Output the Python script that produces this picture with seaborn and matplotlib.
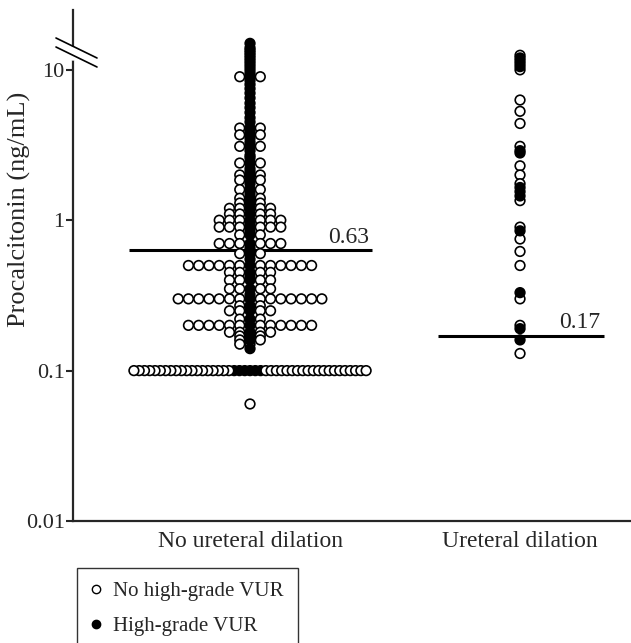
import seaborn as sns
import pandas as pd
import matplotlib.pyplot as plt
from matplotlib.lines import Line2D

groups = ['No ureteral dilation', 'Ureteral dilation']
medians = [0.63, 0.17]
median_labels = ['0.63', '0.17']

# No ureteral dilation: each distinct PCT value with the number of
# children with / without high-grade VUR at that value
g1_values = [15.0, 14.0, 13.5, 13.0, 12.5, 12.0, 11.5, 11.0, 10.5, 10.0, 9.5,
             9.0, 8.5, 8.0, 7.5, 7.0, 6.5, 6.0, 5.6, 5.2, 4.8, 4.5, 4.1, 3.9,
             3.7, 3.5, 3.3, 3.1, 2.9, 2.7, 2.6, 2.4, 2.2, 2.1, 2.0, 1.85, 1.75,
             1.6, 1.5, 1.4, 1.35, 1.3, 1.2, 1.1, 1.0, 0.95, 0.9, 0.85, 0.8, 0.7,
             0.65, 0.6, 0.55, 0.5, 0.45, 0.42, 0.4, 0.35, 0.32, 0.3, 0.27, 0.25,
             0.22, 0.2, 0.18, 0.17, 0.16, 0.15, 0.14, 0.1, 0.06]
g1_high = [1, 1, 1, 1, 1, 1, 1, 1, 1, 1, 1,
           1, 1, 1, 1, 1, 1, 1, 1, 1, 1, 1, 1, 1,
           1, 1, 1, 1, 1, 1, 1, 1, 1, 1, 1, 1, 1,
           1, 1, 1, 1, 1, 1, 1, 1, 1, 1, 0, 1, 1,
           1, 1, 1, 1, 1, 0, 1, 1, 1, 1, 1, 1,
           1, 1, 1, 1, 1, 0, 1, 6, 0]
g1_no = [0, 0, 0, 0, 0, 0, 0, 0, 0, 0, 0,
         2, 0, 0, 0, 0, 0, 0, 0, 0, 0, 0, 2, 0,
         2, 0, 0, 2, 0, 0, 0, 2, 0, 0, 2, 2, 0,
         2, 0, 2, 0, 2, 4, 4, 6, 0, 6, 1, 2, 6,
         0, 2, 0, 12, 4, 1, 4, 4, 0, 14, 2, 4,
         2, 12, 4, 2, 2, 2, 0, 39, 1]

# Ureteral dilation
g2_values = [12.5, 12.0, 11.5, 11.0, 10.5, 10.0, 6.3, 5.3, 4.4, 3.1, 2.9,
             2.8, 2.3, 2.0, 1.75, 1.65, 1.55, 1.45, 1.35, 0.9, 0.85, 0.75,
             0.62, 0.5, 0.33, 0.3, 0.2, 0.19, 0.16, 0.13]
g2_high = [0, 1, 1, 1, 1, 0, 0, 0, 0, 0, 1,
           1, 0, 0, 0, 1, 1, 1, 0, 0, 1, 0,
           0, 0, 1, 0, 0, 1, 1, 0]
g2_no = [1 - h for h in g2_high]


def spread(values, n_high, n_no, pos, step=0.038, max_half=0.43):
    rows = []
    for v, nh, nn in zip(values, n_high, n_no):
        n = nh + nn
        half = (n - 1) / 2
        d = step if half * step <= max_half else max_half / half
        slots = [0]
        k = 1
        while len(slots) < n:
            slots += [-k, k]
            k += 1
        grades = ['High-grade VUR'] * nh + ['No high-grade VUR'] * nn
        for s, g in zip(slots[:n], grades):
            rows.append({'x': pos + s * d, 'pct': v, 'grade': g,
                         'rank': abs(s) * 2 + (g == 'High-grade VUR')})
    return rows


df = pd.DataFrame(spread(g1_values, g1_high, g1_no, 0)
                  + spread(g2_values, g2_high, g2_no, 1))
df = df.sort_values('rank', kind='stable')

sns.set_style('ticks')
plt.rcParams['font.family'] = ['Liberation Serif', 'DejaVu Serif']

fig = plt.figure(figsize=(6.31, 6.43), dpi=100)
ax = fig.add_axes([73 / 631, 1 - 521 / 643, 558 / 631, 511 / 643])

ax.hlines(medians[0], -0.45, 0.45, color='black', lw=2.2, zorder=1)
ax.hlines(medians[1], 1 - 0.305, 1 + 0.31, color='black', lw=2.2, zorder=1)

sns.scatterplot(data=df, x='x', y='pct', hue='grade',
                palette={'No high-grade VUR': 'white', 'High-grade VUR': 'black'},
                edgecolor='black', linewidth=1.2, s=48, legend=False,
                ax=ax, zorder=3)

ax.annotate(median_labels[0], (0.44, medians[0]), xytext=(0, 2),
            textcoords='offset points', ha='right', va='bottom', fontsize=17)
ax.annotate(median_labels[1], (1.296, medians[1]), xytext=(0, 2),
            textcoords='offset points', ha='right', va='bottom', fontsize=17)

ax.set_yscale('log')
ax.set_ylim(0.01, 25)
ax.set_xlim(-0.6556, 1.411)
ax.set_yticks([0.01, 0.1, 1, 10])
ax.set_yticklabels(['0.01', '0.1', '1', '10'])
ax.minorticks_off()
ax.set_xticks([0, 1])
ax.set_xticklabels(groups)
ax.tick_params(axis='x', length=0, pad=7, labelsize=17)
ax.tick_params(axis='y', length=5, width=1.5, pad=1, labelsize=16)
ax.set_xlabel('')
ax.set_ylabel('Procalcitonin (ng/mL)', fontsize=19)
ax.yaxis.set_label_coords(-0.075, 0.61)
for side in ['top', 'right']:
    ax.spines[side].set_visible(False)
for side in ['left', 'bottom']:
    ax.spines[side].set_linewidth(1.6)

# axis break marks
fig.add_artist(Line2D([73 / 631, 73 / 631], [1 - 49 / 643, 1 - 58 / 643],
                      color='white', lw=4))
for dy in (0, 9):
    fig.add_artist(Line2D([56 / 631, 97 / 631],
                          [1 - (38 + dy) / 643, 1 - (58 + dy) / 643],
                          color='black', lw=1.2))

handles = [Line2D([], [], marker='o', ls='', markerfacecolor='white',
                  markeredgecolor='black', markersize=6, markeredgewidth=1),
           Line2D([], [], marker='o', ls='', markerfacecolor='black',
                  markeredgecolor='black', markersize=6)]
leg = fig.legend(handles, ['No high-grade VUR', 'High-grade VUR'],
                 loc='upper left', bbox_to_anchor=(77 / 631, 1 - 568 / 643),
                 fontsize=15, frameon=True, fancybox=False, edgecolor='black',
                 handlelength=0.5, handletextpad=0.6, borderpad=0.65,
                 labelspacing=0.75, borderaxespad=0)
leg.get_frame().set_linewidth(1.0)

fig.savefig('out.png', dpi=100)
